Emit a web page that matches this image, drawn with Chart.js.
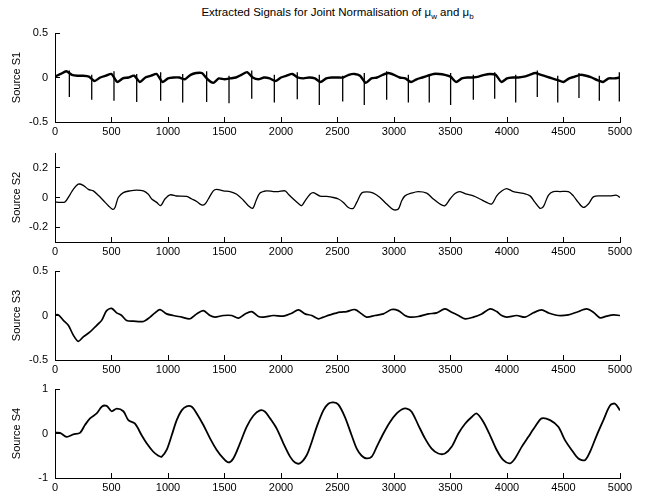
<!DOCTYPE html>
<html lang="en">
<head>
<meta charset="UTF-8">
<script src="https://cdn.jsdelivr.net/npm/chart.js"></script>
<title>Extracted Signals</title>
<style>
    body { margin: 0; background: #fff; }
    .fig { position: relative; width: 647px; height: 500px; font-family: "Liberation Sans", Arial, sans-serif; }
    .titulo { position: absolute; left: 0; top: 6px; width: 675px; text-align: center; font-size: 11.5px; color: #000; }
    .titulo sub { font-size: 8px; }
    canvas { position: absolute; left: 0; }
</style>
</head>
<body>
<div class="fig">
    <div class="titulo">Extracted Signals for Joint Normalisation of &mu;<sub>w</sub> and &mu;<sub>b</sub></div>
    <canvas id="s1" width="647" height="119" style="top:25px"></canvas>
    <canvas id="s2" width="647" height="119" style="top:145px"></canvas>
    <canvas id="s3" width="647" height="119" style="top:263px"></canvas>
    <canvas id="s4" width="647" height="119" style="top:381px"></canvas>
</div>
<script>
// Source S1: slow baseline every 50 samples + the periodic negative spikes
var s1X = []
for (var k = 0; k <= 5000; k += 50) s1X.push(k)
var s1Y = [
    0.01, 0.04, 0.07, 0.03, 0.02, 0.02, 0.01, -0.04, 0.0, 0.02,
    0.04, -0.05, -0.01, 0.0, 0.02, -0.05, 0.0, 0.02, 0.04, -0.05,
    -0.01, 0.0, 0.0, -0.02, 0.03, 0.05, 0.05, -0.02, -0.06, -0.01,
    -0.02, -0.01, 0.0, 0.03, 0.06, 0.0, -0.02, 0.0, -0.01, -0.04,
    0.0, 0.02, 0.04, 0.0, -0.01, 0.0, -0.01, -0.05, -0.01, 0.0,
    0.0, 0.0, 0.03, 0.04, 0.02, -0.06, -0.01, 0.0, 0.03, 0.05,
    0.03, 0.0, -0.01, -0.05, -0.02, 0.0, 0.02, 0.04, 0.04, 0.03,
    0.01, -0.05, -0.01, 0.0, 0.0, 0.01, 0.03, 0.04, 0.03, -0.05,
    -0.01, 0.0, 0.0, 0.01, 0.03, 0.05, 0.03, 0.01, -0.01, -0.03,
    -0.05, -0.01, 0.01, 0.03, 0.02, 0.0, -0.03, -0.05, -0.01, -0.01,
    0.0
]
var s1SpikeX = [127, 325, 522, 723, 935, 1130, 1342, 1540, 1741, 1941, 2144, 2339, 2546,
    2737, 2935, 3127, 3312, 3501, 3702, 3891, 4077, 4268, 4449, 4637, 4817, 4994]
var s1SpikeTopo = [0.08, 0.03, 0.07, 0.04, 0.06, 0.04, 0.07, 0.02, 0.08, 0.03, 0.06, 0.03, 0.02,
    0.05, 0.07, 0.03, 0.04, 0.05, 0.03, 0.06, 0.03, 0.08, 0.02, 0.05, 0.02, 0.06]
var s1SpikeY = [-0.22, -0.25, -0.26, -0.275, -0.26, -0.28, -0.275, -0.29, -0.24, -0.28, -0.245, -0.31, -0.27,
    -0.31, -0.25, -0.28, -0.28, -0.31, -0.25, -0.24, -0.28, -0.22, -0.28, -0.23, -0.26, -0.27]

// Source S2
var s2X = [0, 44, 88, 133, 162, 206, 250, 295, 339, 383, 428, 472, 510, 531, 560, 605, 664, 723, 782, 826,
    856, 900, 935, 973, 1018, 1077, 1165, 1210, 1254, 1298, 1328, 1357, 1401, 1431, 1490, 1549, 1608, 1667, 1711, 1750,
    1779, 1814, 1873, 1932, 1977, 2036, 2065, 2109, 2154, 2183, 2213, 2257, 2286, 2345, 2404, 2463, 2508, 2552, 2596, 2640,
    2670, 2714, 2758, 2817, 2876, 2935, 2994, 3038, 3068, 3097, 3156, 3215, 3289, 3348, 3407, 3451, 3496, 3540, 3584, 3643,
    3702, 3761, 3820, 3865, 3909, 3953, 3997, 4056, 4145, 4204, 4248, 4292, 4322, 4366, 4410, 4469, 4543, 4587, 4631, 4676,
    4720, 4764, 4823, 4912, 4971, 5000]
var s2Y = [-0.03, -0.033, -0.03, 0.02, 0.055, 0.09, 0.082, 0.055, 0.045, 0.015, -0.02, -0.055, -0.08, -0.067, 0.0, 0.033, 0.045, 0.05, 0.045, 0.022,
    -0.01, -0.033, -0.055, -0.01, 0.018, 0.01, 0.007, -0.01, -0.027, -0.05, -0.044, -0.01, 0.045, 0.055, 0.045, 0.04, 0.022, -0.018, -0.055, -0.073,
    -0.022, 0.03, 0.045, 0.04, 0.04, 0.045, 0.022, -0.01, -0.04, -0.055, -0.022, 0.022, 0.033, 0.01, 0.007, 0.0, -0.01, -0.033, -0.067, -0.073,
    -0.033, 0.03, 0.038, 0.03, 0.0, -0.044, -0.082, -0.078, -0.022, 0.011, 0.03, 0.04, 0.03, -0.01, -0.044, -0.055, -0.01, 0.027, 0.04, 0.022,
    0.011, -0.01, -0.033, -0.044, 0.011, 0.044, 0.06, 0.04, 0.027, 0.011, -0.033, -0.073, -0.062, 0.015, 0.04, 0.04, 0.04, 0.011, -0.033, -0.067,
    -0.044, 0.004, 0.011, 0.011, 0.015, 0.0]

// Source S3
var s3X = [0, 30, 74, 118, 162, 206, 250, 310, 369, 413, 457, 501, 546, 590, 634, 693, 782, 841, 885, 929,
    988, 1047, 1121, 1195, 1254, 1313, 1372, 1416, 1490, 1564, 1623, 1682, 1741, 1800, 1844, 1932, 2021, 2095, 2154, 2213,
    2272, 2331, 2375, 2434, 2522, 2581, 2655, 2714, 2758, 2832, 2906, 2979, 3038, 3097, 3142, 3215, 3304, 3378, 3451, 3510,
    3570, 3629, 3702, 3776, 3850, 3909, 3953, 3997, 4086, 4160, 4233, 4307, 4366, 4454, 4543, 4617, 4705, 4764, 4823, 4882,
    4941, 5000]
var s3Y = [0.007, 0.007, -0.055, -0.11, -0.22, -0.29, -0.24, -0.185, -0.11, -0.055, 0.055, 0.08, 0.03, 0.0, -0.055, -0.063, -0.067, -0.018, 0.03, 0.067,
    0.018, 0.0, -0.018, -0.037, 0.018, 0.055, 0.0, -0.018, 0.0, 0.0, -0.03, 0.018, 0.044, -0.011, -0.018, 0.0, -0.007, 0.026, 0.063, 0.018,
    0.0, -0.037, -0.018, 0.007, 0.037, 0.044, 0.067, 0.018, -0.018, 0.0, 0.018, 0.067, 0.055, 0.0, -0.018, -0.011, 0.018, 0.03, 0.074, 0.037,
    0.0, -0.037, -0.018, 0.018, 0.074, 0.044, 0.0, -0.018, 0.0, -0.018, 0.03, 0.063, 0.03, 0.0, 0.007, 0.037, 0.074, 0.037, -0.026, -0.007,
    0.007, 0.0]

// Source S4
var s4X = [0, 44, 103, 162, 221, 265, 310, 369, 413, 457, 501, 546, 605, 649, 708, 767, 811, 870, 915, 944,
    988, 1033, 1077, 1121, 1165, 1210, 1254, 1313, 1372, 1431, 1490, 1534, 1578, 1637, 1696, 1755, 1814, 1859, 1903, 1962,
    2021, 2080, 2124, 2168, 2227, 2272, 2316, 2375, 2419, 2463, 2508, 2566, 2625, 2670, 2714, 2758, 2803, 2847, 2906, 2965,
    3024, 3068, 3112, 3156, 3215, 3274, 3333, 3392, 3451, 3510, 3570, 3629, 3688, 3732, 3791, 3850, 3909, 3968, 4027, 4071,
    4130, 4189, 4248, 4307, 4381, 4454, 4513, 4572, 4631, 4690, 4735, 4794, 4853, 4912, 4956, 5000]
var s4Y = [0.02, 0.015, -0.075, -0.02, 0.015, 0.19, 0.34, 0.45, 0.6, 0.62, 0.5, 0.56, 0.5, 0.3, 0.22, -0.04, -0.22, -0.41, -0.5, -0.52,
    -0.37, -0.04, 0.3, 0.52, 0.61, 0.6, 0.45, 0.19, -0.11, -0.37, -0.56, -0.65, -0.56, -0.22, 0.15, 0.4, 0.52, 0.49, 0.34, 0.11,
    -0.22, -0.52, -0.65, -0.67, -0.49, -0.19, 0.15, 0.52, 0.67, 0.7, 0.65, 0.37, -0.04, -0.34, -0.5, -0.56, -0.52, -0.3, 0.0, 0.26,
    0.45, 0.54, 0.56, 0.49, 0.19, -0.11, -0.34, -0.45, -0.45, -0.3, 0.0, 0.22, 0.37, 0.45, 0.26, -0.04, -0.37, -0.6, -0.67, -0.56,
    -0.3, -0.075, 0.15, 0.34, 0.3, 0.15, -0.15, -0.37, -0.56, -0.6, -0.41, -0.04, 0.3, 0.63, 0.67, 0.52]

var s1Ticks = [-0.5, 0, 0.5]
var s2Ticks = [-0.2, 0, 0.2]
var s3Ticks = [-0.5, 0, 0.5]
var s4Ticks = [-1, 0, 1]

Chart.defaults.font.family = "'Liberation Sans', Arial, sans-serif"
Chart.defaults.font.size = 11
Chart.defaults.color = '#000'

function pares(xs, ys) {
    return xs.map(function (x, i) { return { x: x, y: ys[i] } })
}

function linha(pontos, espessura, tensao) {
    return { data: pontos, borderColor: '#000', borderWidth: espessura, pointRadius: 0, tension: tensao, fill: false, spanGaps: false }
}

// each spike is its own vertical segment, separated by a null
var spikesS1 = []
s1SpikeX.forEach(function (x, i) {
    spikesS1.push({ x: x, y: s1SpikeTopo[i] }, { x: x, y: s1SpikeY[i] }, { x: x, y: null })
})

function grafico(id, datasets, yMin, yMax, yTicks, rotulo) {
    return new Chart(document.getElementById(id), {
        type: 'line',
        data: { datasets: datasets },
        options: {
            responsive: false,
            animation: false,
            devicePixelRatio: 1,
            layout: { padding: { top: 8, right: 27, left: 0, bottom: 0 } },
            plugins: { legend: { display: false }, tooltip: { enabled: false } },
            scales: {
                x: {
                    type: 'linear', min: 0, max: 5000,
                    ticks: { stepSize: 500, padding: 8, maxRotation: 0, autoSkip: false, callback: function (v) { return String(v) } },
                    grid: { drawOnChartArea: false, tickLength: -5, color: '#000' },
                    border: { color: '#000' },
                    afterFit: function (s) { s.height = 22; s.paddingLeft = 0; s.paddingRight = 0 }
                },
                y: {
                    min: yMin, max: yMax,
                    afterBuildTicks: function (s) { s.ticks = yTicks.map(function (v) { return { value: v } }) },
                    ticks: { padding: 12, callback: function (v) { return String(v) } },
                    grid: { drawOnChartArea: false, tickLength: -5, color: '#000' },
                    border: { color: '#000' },
                    title: { display: true, text: rotulo, padding: { top: 10, bottom: 0 } },
                    afterFit: function (s) { s.width = 55; s.paddingTop = 0; s.paddingBottom = 0 }
                }
            }
        }
    })
}

grafico('s1', [linha(pares(s1X, s1Y), 2.4, 0.2), linha(spikesS1, 1.3, 0)], -0.5, 0.5, s1Ticks, 'Source S1')
grafico('s2', [linha(pares(s2X, s2Y), 1.3, 0.3)], -0.3, 0.3, s2Ticks, 'Source S2')
grafico('s3', [linha(pares(s3X, s3Y), 1.7, 0.3)], -0.5, 0.5, s3Ticks, 'Source S3')
grafico('s4', [linha(pares(s4X, s4Y), 1.8, 0.3)], -1, 1, s4Ticks, 'Source S4')
</script>
</body>
</html>
